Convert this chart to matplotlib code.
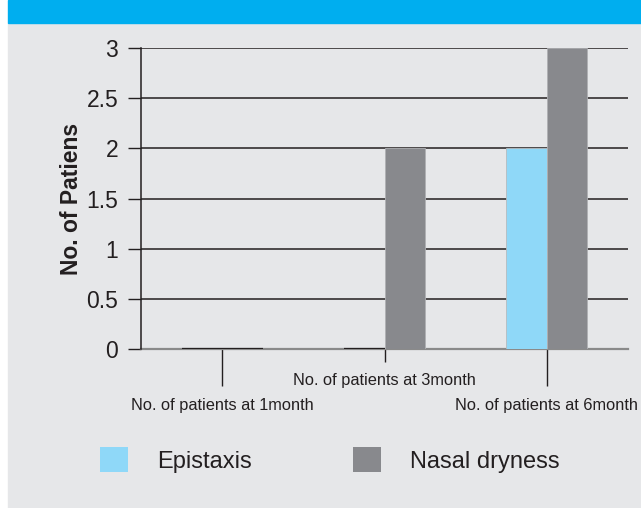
import matplotlib.pyplot as plt
import matplotlib.patches as mpatches
import numpy as np

categories = ['No. of patients at 1month', 'No. of patients at 3month', 'No. of patients at 6month']
series_names = ['Epistaxis', 'Nasal dryness']
epistaxis = [0, 0, 2]
nasal_dryness = [0, 2, 3]
yticks = [0, 0.5, 1, 1.5, 2, 2.5, 3]

blue = '#8fd8f8'
grey = '#88898d'
dark = '#231f20'

plt.rcParams['font.family'] = ['Liberation Sans', 'DejaVu Sans']

fig = plt.figure(figsize=(6.41, 5.08), dpi=100, facecolor='white')
W, H = 641, 508
# panel background and header band
fig.patches.append(mpatches.Rectangle((8 / W, 0), 1, 1 - 23 / H, transform=fig.transFigure,
                                      color='#e6e7e9', zorder=-5))
fig.patches.append(mpatches.Rectangle((8 / W, 1 - 23 / H), 1, 23 / H, transform=fig.transFigure,
                                      color='#00aeef', zorder=-5))

ax = fig.add_axes([141 / W, 159 / H, 487 / W, 301 / H])
ax.set_facecolor('none')

x = np.arange(len(categories))
w = 0.25
b1 = ax.bar(x - w / 2, epistaxis, w, color=blue, edgecolor='#b5bcc0', linewidth=0.6, zorder=3,
            label=series_names[0])
b2 = ax.bar(x + w / 2, nasal_dryness, w, color=grey, edgecolor='#b0b1b4', linewidth=0.6, zorder=3,
            label=series_names[1])

# zero-valued bars show as a dark line on the baseline
for off, vals in ((-w / 2, epistaxis), (w / 2, nasal_dryness)):
    for xi, v in zip(x, vals):
        if v == 0:
            ax.hlines(0, xi + off - w / 2, xi + off + w / 2, color=dark, lw=1.6, zorder=4)

ax.set_xlim(-0.5, 2.5)
ax.set_ylim(0, 3)
ax.set_yticks(yticks, labels=[f'{t:g}' for t in yticks])
ax.yaxis.grid(True, color=dark, lw=1.1, zorder=1)
ax.set_axisbelow(True)
ax.tick_params(axis='y', length=9.4, width=1, color=dark, pad=7, labelsize=16.5, labelcolor=dark)

# staggered category labels: long ticks for 1 and 6 month, short tick for 3 month
ax.set_xticks([0, 2], labels=[categories[0], categories[2]])
ax.set_xticks([1], labels=[categories[1]], minor=True)
ax.tick_params(axis='x', which='major', length=26.6, width=1, color=dark, pad=8.5,
               labelsize=11.8, labelcolor=dark)
ax.tick_params(axis='x', which='minor', length=9.4, width=1, color=dark, pad=8,
               labelsize=11.8, labelcolor=dark)

for s in ('top', 'right'):
    ax.spines[s].set_visible(False)
ax.spines['left'].set_color(dark)
ax.spines['left'].set_linewidth(1.1)
ax.spines['left'].set_zorder(5)
ax.spines['bottom'].set_color('#8a8a8a')
ax.spines['bottom'].set_linewidth(1.6)

ax.set_ylabel('No. of Patiens', fontsize=16.5, fontweight='bold', color=dark)
ax.yaxis.set_label_coords(-58 / 487, 0.5)

leg = fig.legend(handles=[b1, b2], loc='center left', bbox_to_anchor=(100 / W, 1 - 460 / H),
                 ncol=2, frameon=False, fontsize=17, handlelength=1.2, handleheight=1.2,
                 handletextpad=1.2, columnspacing=4.3, borderpad=0, borderaxespad=0,
                 labelcolor=dark)
for h in leg.legend_handles:
    h.set_edgecolor('none')

fig.savefig('out.png', dpi=100)
